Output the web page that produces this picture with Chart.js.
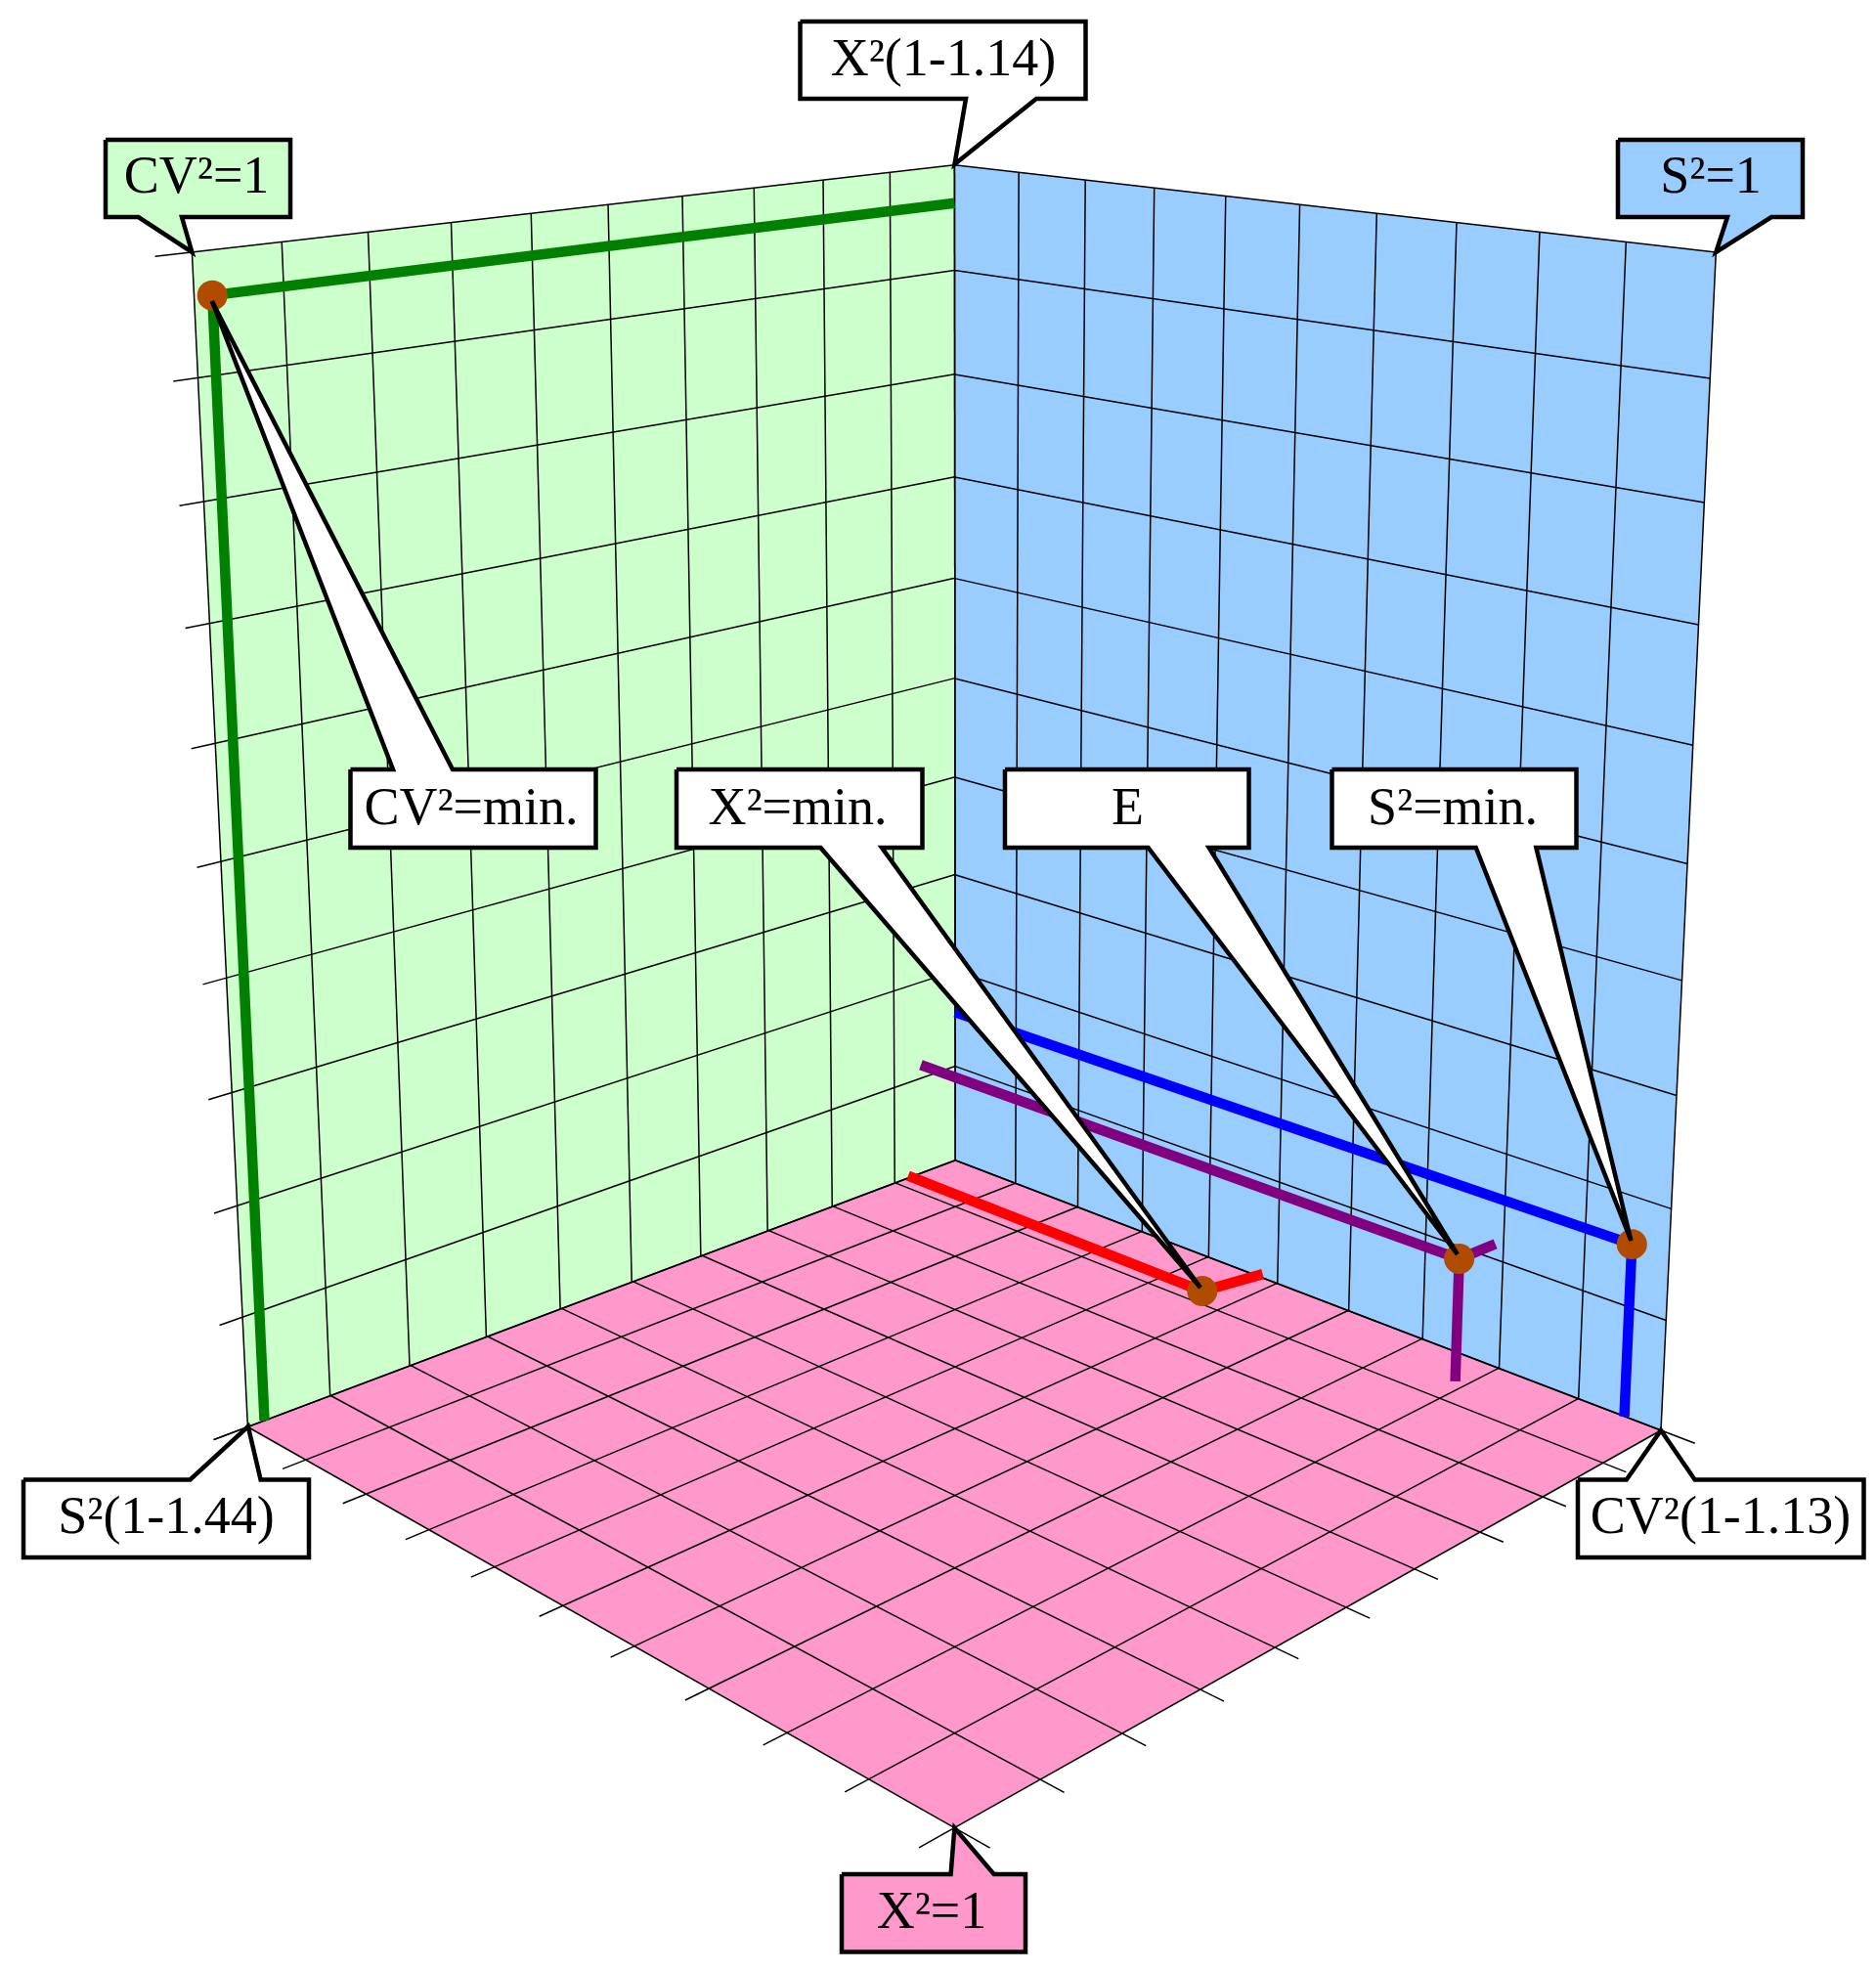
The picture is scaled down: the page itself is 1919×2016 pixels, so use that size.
<!DOCTYPE html>
<html><head><meta charset="utf-8">
<style>html,body{margin:0;padding:0;background:#fff}canvas{display:block}</style>
<script src="https://cdn.jsdelivr.net/npm/chart.js@4/dist/chart.umd.min.js"></script>
</head><body><canvas id="c" width="1919" height="2016"></canvas>
<script>
// ---- data, in cube grid units (a: back corner to left corner, b: back corner to right corner, c: up) ----
const gridTicks = [0,1,2,3,4,5,6,7,8,9,10];
const tickOverhangEdge = 10.4;
const tickOverhangInner = 10.27;
const cvMinPath = [[0,0,9.64],[9.8,0,9.64],[9.8,0,0]];
const sMinPath = [[0,0,1.57],[0,9.56,1.57],[0,9.56,0]];
const xMinPath = [[0.74,-0.05,0],[0.74,4.56,0],[-0.08,4.73,0]];
const eMainPath = [[0.57,0,1.14],[0.57,7.87,1.14],[0,7.9,1.14]];
const eDropPath = [[0.57,7.87,1.14],[0.57,7.87,0]];
const cvMinPoint = [9.8,0,9.64];
const sMinPoint = [0,9.56,1.57];
const xMinPoint = [0.74,4.56,0];
const ePoint = [0.57,7.87,1.14];
const cornerLabels = ["X²(1-1.14)","CV²=1","S²=1","S²(1-1.44)","CV²(1-1.13)","X²=1"];
const pointLabels = ["CV²=min.","X²=min.","E","S²=min."];

// ---- view: where the cube's corners appear on the page ----
const view = {O:[977.2,1186.7],A:[253.4,1459.5],B:[1699,1463],C:[976.4,168.8],AB:[976.4,1869.5],AC:[196.4,258],BC:[1755.3,258]};
function det(m){return m[0][0]*(m[1][1]*m[2][2]-m[1][2]*m[2][1])-m[0][1]*(m[1][0]*m[2][2]-m[1][2]*m[2][0])+m[0][2]*(m[1][0]*m[2][1]-m[1][1]*m[2][0]);}
function weights(P,Q,PQ){ // solves wp*P + wq*Q - s*PQ = O
  const O=[view.O[0],view.O[1],1],p=[P[0],P[1],1],q=[Q[0],Q[1],1],r=[-PQ[0],-PQ[1],-1];
  const M=[[p[0],q[0],r[0]],[p[1],q[1],r[1]],[p[2],q[2],r[2]]],D=det(M);
  const col=(i)=>M.map((row,k)=>row.map((v,j)=>j===i?O[k]:v));
  return [det(col(0))/D,det(col(1))/D];
}
const wF=weights(view.A,view.B,view.AB),wG=weights(view.A,view.C,view.AC),wB=weights(view.B,view.C,view.BC);
const faceW={floor:[wF[0],wF[1],1],green:[wG[0],1,wG[1]],blue:[1,wB[0],wB[1]],inside:[(wF[0]+wG[0])/2,(wF[1]+wB[0])/2,(wG[1]+wB[1])/2]};
function project(p,face){
  const w=faceW[face],a=p[0]/10,b=p[1]/10,c=p[2]/10,o=1-a-b-c;
  const hx=o*view.O[0]+a*w[0]*view.A[0]+b*w[1]*view.B[0]+c*w[2]*view.C[0];
  const hy=o*view.O[1]+a*w[0]*view.A[1]+b*w[1]*view.B[1]+c*w[2]*view.C[1];
  const h=o+a*w[0]+b*w[1]+c*w[2];
  return {x:hx/h,y:hy/h};
}

// ---- callout layout ----
const callouts=[
 {t:pointLabels[0],box:[358.5,787,609.5,867],side:"top",tail:[402,463],tip:[216.8,308],fill:"#fff",cx:482,base:843},
 {t:pointLabels[1],box:[692,787,943.5,867],side:"bottom",tail:[839.4,902],tip:[1228,1317],fill:"#fff",cx:816,base:843},
 {t:pointLabels[2],box:[1028,787,1277.5,867],side:"bottom",tail:[1174.5,1236.7],tip:[1490.8,1283],fill:"#fff",cx:1153.5,base:843},
 {t:pointLabels[3],box:[1362.5,787,1612.5,867],side:"bottom",tail:[1509.7,1571.4],tip:[1668.4,1269],fill:"#fff",cx:1486,base:843},
 {t:cornerLabels[0],box:[818.5,22,1110.5,101],side:"bottom",tail:[988,1060],tip:[976.5,168],fill:"#fff",cx:965,base:77},
 {t:cornerLabels[1],box:[108,143,297,222],side:"bottom",tail:[141.6,186],tip:[196.4,258],fill:"#CCFFCC",cx:201,base:197},
 {t:cornerLabels[2],box:[1655,143,1844,222],side:"bottom",tail:[1767,1812],tip:[1755.3,258],fill:"#99CCFF",cx:1750,base:197},
 {t:cornerLabels[3],box:[24,1513.5,316,1593],side:"top",tail:[194.5,266.6],tip:[253.8,1459],fill:"#fff",cx:170,base:1568},
 {t:cornerLabels[4],box:[1614,1513.5,1906.5,1593],side:"top",tail:[1663.8,1733.7],tip:[1699,1463],fill:"#fff",cx:1760,base:1568},
 {t:cornerLabels[5],box:[861,1917,1049,1996.5],side:"top",tail:[972.6,1016.7],tip:[976.4,1869.5],fill:"#FF99CC",cx:953,base:1972}
];

// ---- datasets ----
const datasets=[];
function face(pts,f,color){datasets.push({data:pts.map(p=>project(p,f)),showLine:true,pointRadius:0,borderWidth:0,borderColor:color,backgroundColor:color,fill:'shape'});}
function line(pts,f,color,w){datasets.push({data:pts.map(p=>project(p,f)),showLine:true,pointRadius:0,borderWidth:w,borderColor:color,fill:false});}
function dot(p,f){datasets.push({data:[project(p,f)],showLine:false,pointRadius:15.5,pointBackgroundColor:"#B04C00",pointBorderWidth:0});}
face([[0,0,0],[10,0,0],[10,0,10],[0,0,10],[0,0,0]],'green',"#CCFFCC");
face([[0,0,0],[0,10,0],[0,10,10],[0,0,10],[0,0,0]],'blue',"#99CCFF");
face([[0,0,0],[10,0,0],[10,10,0],[0,10,0],[0,0,0]],'floor',"#FF99CC");
const gridC="#000",gridW=1.5;
gridTicks.forEach(t=>{
  const over=(t===0||t===10)?tickOverhangEdge:tickOverhangInner;
  line([[t,0,0],[t,0,10]],'green',gridC,gridW);
  line([[0,0,t],[over,0,t]],'green',gridC,gridW);
  line([[0,t,0],[0,t,10]],'blue',gridC,gridW);
  line([[0,0,t],[0,10,t]],'blue',gridC,gridW);
  line([[t,0,0],[t,over,0]],'floor',gridC,gridW);
  line([[0,t,0],[over,t,0]],'floor',gridC,gridW);
});
line(cvMinPath,'green',"#008000",10.5);
line(sMinPath,'blue',"#0000FF",10.5);
line(xMinPath,'floor',"#FF0000",10.5);
line(eMainPath,'inside',"#800080",10.5);
line(eDropPath,'inside',"#800080",10.5);
dot(cvMinPoint,'green');dot(sMinPoint,'blue');dot(xMinPoint,'floor');dot(ePoint,'inside');
callouts.forEach(k=>{
  const [l,t,r,b]=k.box,[x1,x2]=k.tail,tip={x:k.tip[0],y:k.tip[1]};
  const pts=k.side==="top"
    ?[{x:l,y:t},{x:x1,y:t},tip,{x:x2,y:t},{x:r,y:t},{x:r,y:b},{x:l,y:b},{x:l,y:t}]
    :[{x:l,y:t},{x:r,y:t},{x:r,y:b},{x:x2,y:b},tip,{x:x1,y:b},{x:l,y:b},{x:l,y:t}];
  datasets.push({data:pts,showLine:true,pointRadius:0,borderWidth:4.5,borderColor:"#000",backgroundColor:k.fill,fill:'shape',borderJoinStyle:'miter'});
});
datasets.forEach((d,i)=>{d.order=datasets.length-i;d.tension=0;});

const labelPlugin={id:'calloutText',afterDraw(ch){
  const x=ch.scales.x,y=ch.scales.y,ctx=ch.ctx;
  ctx.save();ctx.fillStyle="#000";ctx.font='54px "Liberation Serif"';ctx.textAlign="center";ctx.textBaseline="alphabetic";
  callouts.forEach(k=>ctx.fillText(k.t,x.getPixelForValue(k.cx),y.getPixelForValue(k.base)));
  ctx.restore();
}};
new Chart(document.getElementById('c'),{type:'scatter',data:{datasets},plugins:[labelPlugin],options:{
  responsive:false,animation:false,layout:{padding:0,autoPadding:false},
  plugins:{legend:{display:false},tooltip:{enabled:false}},
  scales:{x:{type:'linear',min:0,max:1919,display:false},y:{type:'linear',min:0,max:2016,reverse:true,display:false}}
}});
</script></body></html>
